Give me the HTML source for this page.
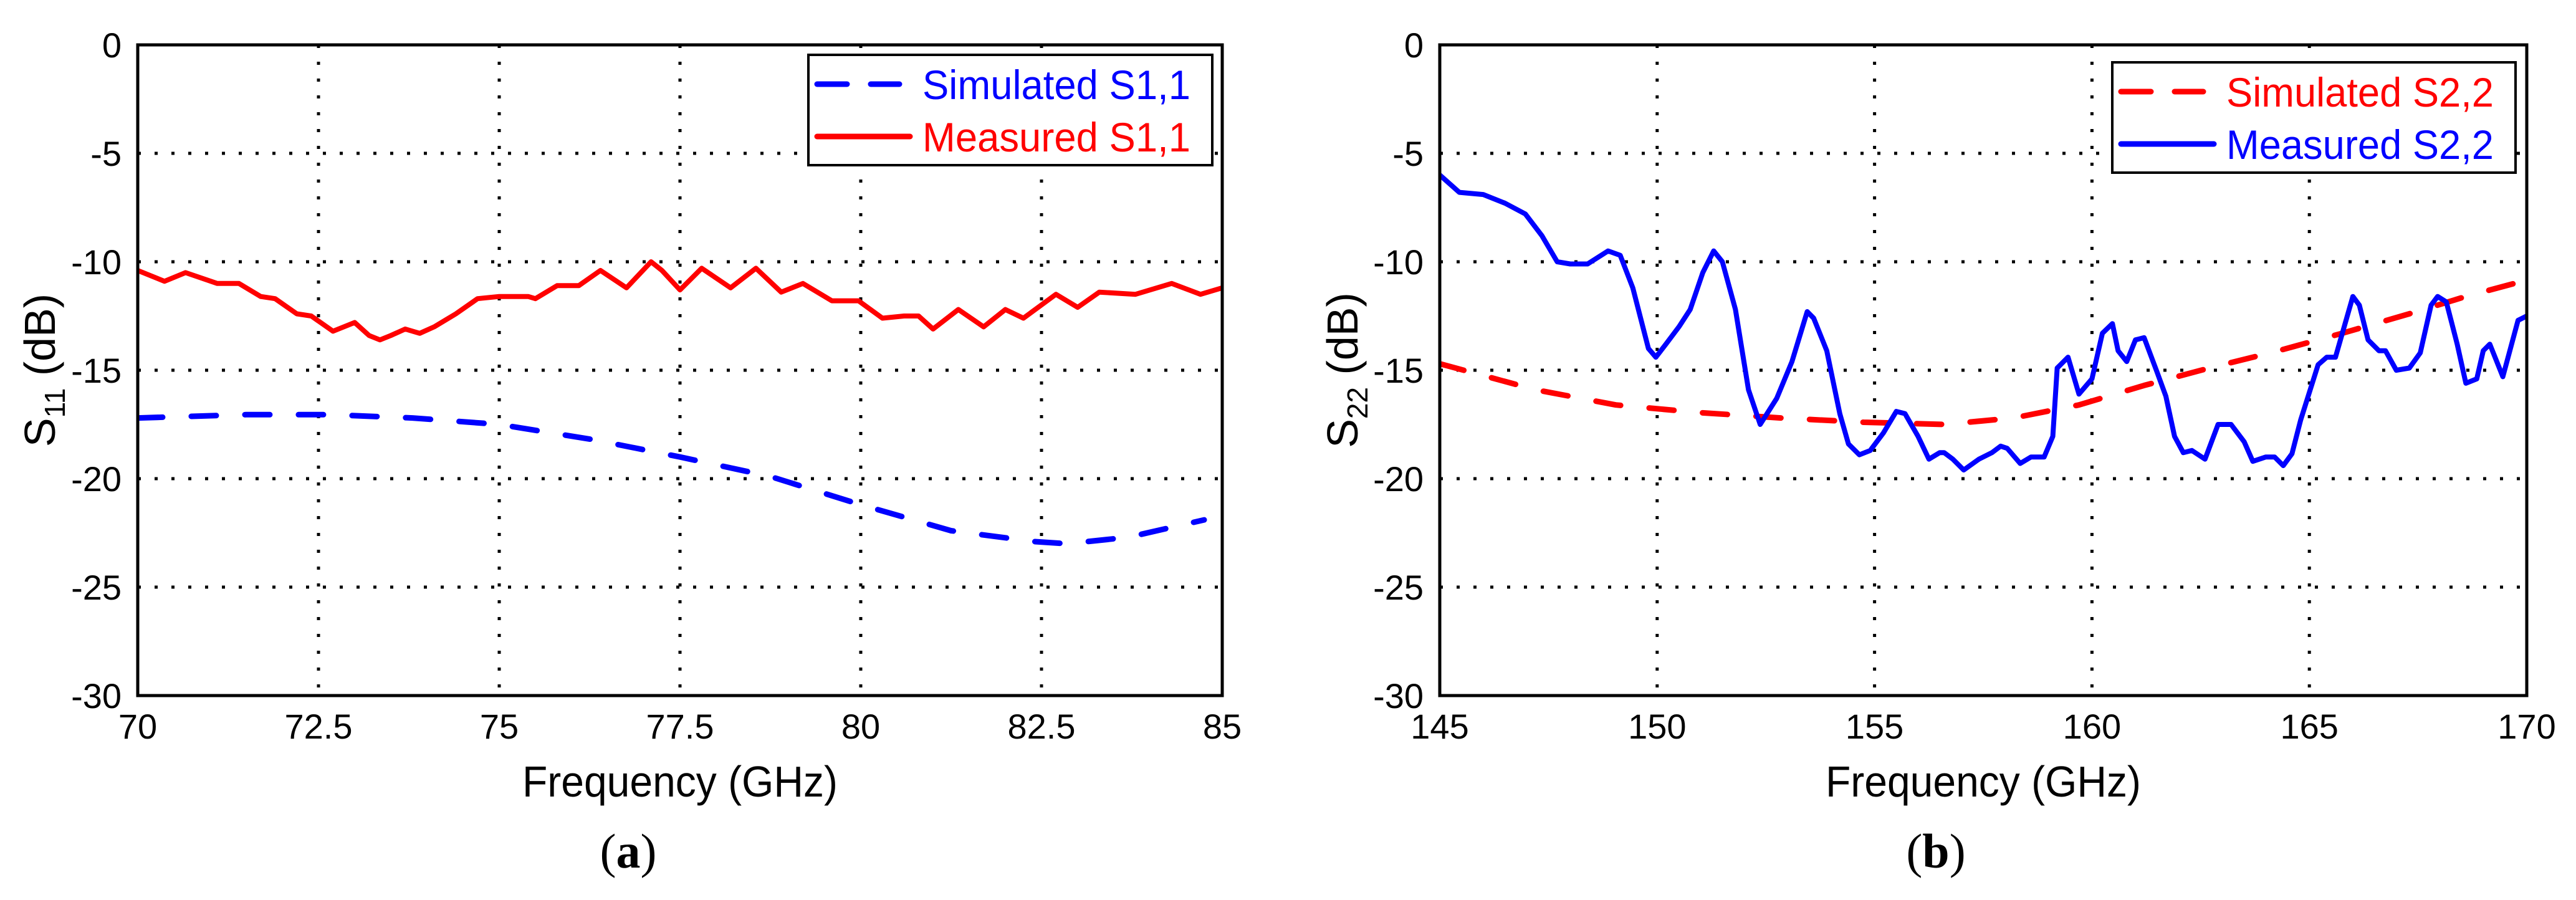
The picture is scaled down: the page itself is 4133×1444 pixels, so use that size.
<!DOCTYPE html>
<html><head><meta charset="utf-8"><style>
html,body{margin:0;padding:0;background:#fff;}
svg{display:block;}
text{font-family:"Liberation Sans",sans-serif;}
</style></head><body>
<svg id="fig" width="4133" height="1444" viewBox="0 0 4133 1444" xmlns="http://www.w3.org/2000/svg">
<rect width="4133" height="1444" fill="#fff"/>
<g id="panelA"></g>
<g id="panelB"></g>
</svg>
<script>
// ---- Panel (a) data ----
const aXTicks = [70, 72.5, 75, 77.5, 80, 82.5, 85];
const aXTickLabels = ["70", "72.5", "75", "77.5", "80", "82.5", "85"];
const yTicks = [0, -5, -10, -15, -20, -25, -30];
const yTickLabels = ["0", "-5", "-10", "-15", "-20", "-25", "-30"];
const aMeasFreq = [70,70.37,70.66,71.1,71.4,71.7,71.9,72.2,72.4,72.7,73.0,73.2,73.35,73.5,73.7,73.9,74.1,74.4,74.7,75.0,75.4,75.5,75.8,76.1,76.4,76.76,77.1,77.25,77.5,77.8,78.2,78.55,78.9,79.2,79.6,79.97,80.3,80.6,80.8,81.0,81.35,81.7,82.0,82.25,82.7,83.0,83.3,83.8,84.3,84.7,85];
const aMeasVal = [-10.4,-10.9,-10.5,-11.0,-11.0,-11.6,-11.7,-12.4,-12.5,-13.2,-12.8,-13.4,-13.6,-13.4,-13.1,-13.3,-13.0,-12.4,-11.7,-11.6,-11.6,-11.7,-11.1,-11.1,-10.4,-11.2,-10.0,-10.4,-11.3,-10.3,-11.2,-10.3,-11.4,-11.0,-11.8,-11.8,-12.6,-12.5,-12.5,-13.1,-12.2,-13.0,-12.2,-12.6,-11.5,-12.1,-11.4,-11.5,-11.0,-11.5,-11.2];
const aSimFreq = [70,71.5,72.65,73.8,75,76.3,77.5,78.75,80,81.25,82.4,82.85,83.7,84.75];
const aSimVal = [-17.2,-17.05,-17.05,-17.2,-17.5,-18.2,-19.0,-19.9,-21.2,-22.4,-22.9,-23.0,-22.7,-21.9];

// ---- Panel (b) data ----
const bXTicks = [145, 150, 155, 160, 165, 170];
const bXTickLabels = ["145", "150", "155", "160", "165", "170"];
const bMeasFreq = [145,145.45,146.0,146.5,146.97,147.35,147.7,148.0,148.4,148.87,149.15,149.44,149.8,149.97,150.2,150.5,150.76,151.05,151.3,151.5,151.8,152.1,152.37,152.75,153.1,153.45,153.6,153.9,154.2,154.4,154.65,154.9,155.2,155.5,155.7,156.0,156.25,156.5,156.6,156.8,157.05,157.4,157.7,157.9,158.05,158.35,158.6,158.9,159.1,159.2,159.45,159.7,160.0,160.24,160.47,160.6,160.8,161.0,161.2,161.5,161.7,161.9,162.1,162.3,162.6,162.9,163.2,163.5,163.7,164.0,164.2,164.4,164.6,164.8,165.2,165.4,165.6,166.0,166.15,166.35,166.6,166.75,167.0,167.3,167.55,167.8,167.95,168.15,168.4,168.6,168.85,169.0,169.15,169.45,169.8,170.0];
const bMeasVal = [-6.0,-6.8,-6.9,-7.3,-7.8,-8.8,-10.0,-10.1,-10.1,-9.5,-9.7,-11.2,-14.0,-14.4,-13.8,-13.0,-12.2,-10.5,-9.5,-10.0,-12.2,-15.9,-17.5,-16.3,-14.6,-12.3,-12.6,-14.1,-17.0,-18.4,-18.9,-18.7,-17.9,-16.9,-17.0,-18.05,-19.1,-18.8,-18.8,-19.1,-19.6,-19.1,-18.8,-18.5,-18.6,-19.3,-19.0,-19.0,-18.05,-14.9,-14.4,-16.1,-15.4,-13.3,-12.85,-14.1,-14.6,-13.6,-13.5,-15.1,-16.2,-18.05,-18.8,-18.7,-19.1,-17.5,-17.5,-18.3,-19.2,-19.0,-19.0,-19.4,-18.85,-17.3,-14.75,-14.4,-14.4,-11.6,-12.0,-13.6,-14.1,-14.1,-15.0,-14.9,-14.2,-12.0,-11.6,-11.85,-13.8,-15.6,-15.4,-14.1,-13.8,-15.3,-12.7,-12.5];
const bSimFreq = [145,147.2,149.05,150.95,152.85,154.75,156.6,158.2,159.7,161.2,162.7,164.2,165.75,167.3,168.6,169.9,170];
const bSimVal = [-14.7,-15.9,-16.6,-16.95,-17.2,-17.4,-17.5,-17.2,-16.6,-15.7,-14.9,-14.15,-13.3,-12.4,-11.6,-10.9,-10.85];

const NS = "http://www.w3.org/2000/svg";
function mk(parent, tag, attrs, text) {
  const e = document.createElementNS(NS, tag);
  for (const k in attrs) e.setAttribute(k, attrs[k]);
  if (text !== undefined) e.textContent = text;
  parent.appendChild(e);
  return e;
}

function drawPanel(g, cfg) {
  const L = cfg.left, R = cfg.right, T = 72, B = 1116;
  const xs = v => L + (v - cfg.xmin) / (cfg.xmax - cfg.xmin) * (R - L);
  const ys = v => T + (0 - v) / 30 * (B - T);
  const clipId = cfg.id + "clip";
  const defs = mk(g, "defs", {});
  const cp = mk(defs, "clipPath", {id: clipId});
  mk(cp, "rect", {x: L, y: T, width: R - L, height: B - T});

  // grid
  yTicks.forEach((v, i) => {
    if (v === 0 || v === -30) return;
    const ln = mk(g, "line", {x1: L, x2: R, y1: ys(v), y2: ys(v), stroke: "#000", "stroke-width": 5, "stroke-dasharray": "5 22"});
    
    
  });
  cfg.xTicks.forEach((v, i) => {
    if (i === 0 || i === cfg.xTicks.length - 1) return;
    const ln = mk(g, "line", {x1: xs(v), x2: xs(v), y1: T, y2: B, stroke: "#000", "stroke-width": 5, "stroke-dasharray": "5 22"});
    
    
  });
  // tick labels
  yTicks.forEach((v, i) => {
    const t = mk(g, "text", {x: L - 26, y: ys(v) + 20, "font-size": 56, "text-anchor": "end", fill: "#000"}, yTickLabels[i]);
    
    
  });
  cfg.xTicks.forEach((v, i) => {
    const t = mk(g, "text", {x: xs(v), y: 1185, "font-size": 56, "text-anchor": "middle", fill: "#000"}, cfg.xTickLabels[i]);
    
    
  });
  // series
  const pts = (fx, fy) => fx.map((f, i) => xs(f).toFixed(1) + "," + ys(fy[i]).toFixed(1)).join(" ");
  const cg = mk(g, "g", {"clip-path": "url(#" + clipId + ")"});
  const sim = mk(cg, "polyline", {points: pts(cfg.simF, cfg.simV), fill: "none", stroke: cfg.simColor, "stroke-width": 9, "stroke-dasharray": "40 46", "stroke-linecap": "round", "stroke-linejoin": "round"});
  
  
  const meas = mk(cg, "polyline", {points: pts(cfg.measF, cfg.measV), fill: "none", stroke: cfg.measColor, "stroke-width": 8, "stroke-linejoin": "round", "stroke-linecap": "round"});
  
  
  // frame
  const fr = mk(g, "rect", {x: L, y: T, width: R - L, height: B - T, fill: "none", stroke: "#000", "stroke-width": 5});
  
  
  // legend
  const lg = mk(g, "g", {});
  
  
  const lx = cfg.legX, ly = cfg.legY, lw = cfg.legW, lh = 177;
  mk(lg, "rect", {x: lx, y: ly, width: lw, height: lh, fill: "#fff", stroke: "#000", "stroke-width": 4});
  const r1 = ly + 47, r2 = ly + 131;
  mk(lg, "line", {x1: lx + 14, x2: lx + 62, y1: r1, y2: r1, stroke: cfg.simColor, "stroke-width": 9, "stroke-linecap": "round"});
  mk(lg, "line", {x1: lx + 100, x2: lx + 146, y1: r1, y2: r1, stroke: cfg.simColor, "stroke-width": 9, "stroke-linecap": "round"});
  mk(lg, "line", {x1: lx + 14, x2: lx + 163, y1: r2, y2: r2, stroke: cfg.measColor, "stroke-width": 9, "stroke-linecap": "round"});
  const t1 = mk(lg, "text", {x: lx + 183, y: r1 + 24, "font-size": 66, fill: cfg.simColor, textLength: lw - 218, lengthAdjust: "spacingAndGlyphs"}, cfg.simLabel);
  
  
  const t2 = mk(lg, "text", {x: lx + 183, y: r2 + 24, "font-size": 66, fill: cfg.measColor, textLength: lw - 218, lengthAdjust: "spacingAndGlyphs"}, cfg.measLabel);
  
  
  // axis titles
  const xt = mk(g, "text", {x: (L + R) / 2, y: 1278, "font-size": 70, "text-anchor": "middle", fill: "#000", textLength: 506, lengthAdjust: "spacingAndGlyphs"}, "Frequency (GHz)");
  
  
  const yt = mk(g, "text", {x: 0, y: 0, "font-size": 70, "text-anchor": "middle", fill: "#000", transform: "translate(" + cfg.yTitleX + ",594) rotate(-90)"});
  
  
  mk(yt, "tspan", {}, "S");
  mk(yt, "tspan", {"font-size": 46, dy: 16}, cfg.sub);
  mk(yt, "tspan", {dy: -16}, " (dB)");
  const cap = mk(g, "text", {x: cfg.capX, y: 1392, "font-size": 78, "text-anchor": "middle", fill: "#000", style: "font-family:'Liberation Serif',serif"});
  
  
  mk(cap, "tspan", {}, "(");
  mk(cap, "tspan", {"font-weight": "bold"}, cfg.cap);
  mk(cap, "tspan", {}, ")");
}

drawPanel(document.getElementById("panelA"), {
  id: "a", left: 221, right: 1961, xmin: 70, xmax: 85,
  xTicks: aXTicks, xTickLabels: aXTickLabels,
  measF: aMeasFreq, measV: aMeasVal, simF: aSimFreq, simV: aSimVal,
  simColor: "#0000ff", measColor: "#ff0000",
  simLabel: "Simulated S1,1", measLabel: "Measured S1,1",
  legX: 1297, legY: 88, legW: 648, yTitleX: 88, sub: "11", cap: "a", capX: 1008
});
drawPanel(document.getElementById("panelB"), {
  id: "b", left: 2310, right: 4054, xmin: 145, xmax: 170,
  xTicks: bXTicks, xTickLabels: bXTickLabels,
  measF: bMeasFreq, measV: bMeasVal, simF: bSimFreq, simV: bSimVal,
  simColor: "#ff0000", measColor: "#0000ff",
  simLabel: "Simulated S2,2", measLabel: "Measured S2,2",
  legX: 3389, legY: 100, legW: 647, yTitleX: 2178, sub: "22", cap: "b", capX: 3106
});
</script>
</body></html>
